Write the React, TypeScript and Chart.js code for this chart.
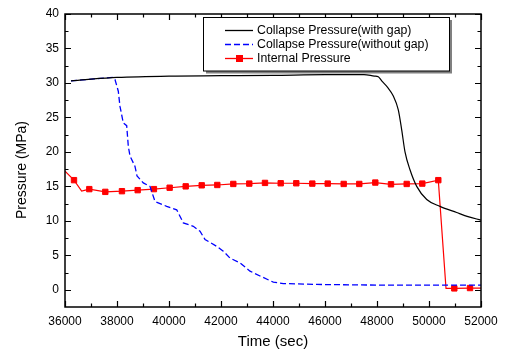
import React, { useEffect, useRef } from "react";
import { Chart, registerables } from "chart.js";

Chart.register(...registerables);

// ---- data ----
const withGapTime = [36230, 37000, 38000, 40000, 42000, 44000, 46000, 47500, 47900, 48050, 48181, 48400, 48627, 48819, 48950, 49077, 49269, 49527, 49912, 50423, 51065, 51500, 52000];
const withGapPressure = [30.3, 30.55, 30.8, 31.0, 31.05, 31.1, 31.2, 31.2, 31.0, 30.9, 30.3, 29.4, 28.1, 26.1, 23.2, 20.0, 17.4, 15.0, 13.1, 12.1, 11.2, 10.6, 10.1];

const withoutGapTime = [36230, 37000, 37858, 37923, 38050, 38115, 38242, 38373, 38435, 38500, 38692, 38770, 39012, 39269, 39462, 39912, 40296, 40550, 40935, 41192, 41385, 41835, 42088, 42346, 42731, 43115, 43500, 44012, 44396, 45681, 48242, 52000];
const withoutGapPressure = [30.3, 30.55, 30.8, 30.5, 28.8, 26.6, 24.2, 23.8, 20.8, 19.4, 17.9, 16.5, 15.5, 15.0, 12.8, 12.1, 11.6, 9.7, 9.2, 8.5, 7.3, 6.3, 5.6, 4.6, 3.9, 2.7, 2.0, 1.1, 0.9, 0.77, 0.67, 0.67];

const internalTime = [36000, 36346, 36640, 36935, 37550, 38190, 38795, 39420, 40025, 40642, 41258, 41858, 42473, 43088, 43692, 44296, 44896, 45512, 46104, 46719, 47319, 47935, 48538, 49142, 49742, 50358, 50654, 50973, 51577, 52000];
const internalPressure = [17.2, 15.9, 14.3, 14.6, 14.2, 14.3, 14.45, 14.6, 14.8, 15.0, 15.15, 15.2, 15.35, 15.4, 15.5, 15.45, 15.45, 15.4, 15.4, 15.35, 15.35, 15.55, 15.3, 15.35, 15.4, 15.9, 0.2, 0.2, 0.25, 0.25];
const internalMarked = [0, 1, 0, 1, 1, 1, 1, 1, 1, 1, 1, 1, 1, 1, 1, 1, 1, 1, 1, 1, 1, 1, 1, 1, 1, 1, 0, 1, 1, 0];

const xTickValues = [36000, 38000, 40000, 42000, 44000, 46000, 48000, 50000, 52000];
const yTickValues = [0, 5, 10, 15, 20, 25, 30, 35, 40];
const seriesLabels = ["Collapse Pressure(with gap)", "Collapse Pressure(without gap)", "Internal Pressure"];
const xTitle = "Time (sec)";
const yTitle = "Pressure (MPa)";

const FONT = "'Liberation Sans', Arial, sans-serif";

const toXY = (xs: number[], ys: number[]) => xs.map((x, i) => ({ x, y: ys[i] }));

const framePlugin = {
  id: "frameDecor",
  afterDatasetsDraw(chart: any) {
    const { ctx, chartArea } = chart;
    const { left, right, top, bottom } = chartArea;
    const xs = chart.scales.x;
    const ys = chart.scales.y;
    ctx.save();
    ctx.strokeStyle = "#000";
    ctx.lineWidth = 1.5;
    ctx.strokeRect(left, top, right - left, bottom - top);

    ctx.lineWidth = 1.2;
    ctx.beginPath();
    for (let t = xs.min; t <= xs.max; t += 1000) {
      const px = Math.round(xs.getPixelForValue(t)) + 0.5;
      const len = t % 2000 === 0 ? 6 : 3.5;
      ctx.moveTo(px, bottom);
      ctx.lineTo(px, bottom - len);
      ctx.moveTo(px, top);
      ctx.lineTo(px, top + len);
    }
    for (let v = 0; v <= ys.max; v += 2.5) {
      const py = Math.round(ys.getPixelForValue(v)) + 0.5;
      const len = v % 5 === 0 ? 6 : 3.5;
      ctx.moveTo(left, py);
      ctx.lineTo(left + len, py);
      ctx.moveTo(right, py);
      ctx.lineTo(right - len, py);
    }
    ctx.stroke();

    // axis titles
    ctx.fillStyle = "#000";
    ctx.font = `15px ${FONT}`;
    ctx.textAlign = "center";
    ctx.textBaseline = "middle";
    ctx.fillText(xTitle, (left + right) / 2, 342);
    ctx.save();
    ctx.translate(22, 170);
    ctx.rotate(-Math.PI / 2);
    ctx.font = `14px ${FONT}`;
    ctx.fillText(yTitle, 0, 0);
    ctx.restore();

    // legend
    const bx = 203.5, by = 17.5, bw = 246, bh = 53.5;
    ctx.fillStyle = "#808080";
    ctx.fillRect(bx + 2.5, by + 2.5, bw, bh);
    ctx.fillStyle = "#fff";
    ctx.fillRect(bx, by, bw, bh);
    ctx.strokeStyle = "#000";
    ctx.lineWidth = 1;
    ctx.strokeRect(bx, by, bw, bh);

    const rows = [30.5, 44.5, 58.5];
    const styles = chart.data.datasets;
    ctx.font = `12.3px ${FONT}`;
    ctx.textAlign = "left";
    ctx.textBaseline = "middle";
    rows.forEach((ry, i) => {
      const ds = styles[i];
      ctx.save();
      ctx.strokeStyle = ds.borderColor;
      ctx.lineWidth = 1.3;
      ctx.setLineDash(ds.borderDash || []);
      ctx.beginPath();
      ctx.moveTo(225, ry);
      ctx.lineTo(253, ry);
      ctx.stroke();
      ctx.restore();
      if (i === 2) {
        ctx.fillStyle = "#ff0000";
        ctx.fillRect(236, ry - 3.5, 7, 7);
      }
      ctx.fillStyle = "#000";
      ctx.fillText(seriesLabels[i], 257, ry);
    });
    ctx.restore();
  },
};

export default function App() {
  const ref = useRef<HTMLCanvasElement | null>(null);

  useEffect(() => {
    if (!ref.current) return;
    const chart = new Chart(ref.current, {
      type: "line",
      data: {
        datasets: [
          {
            label: seriesLabels[0],
            data: toXY(withGapTime, withGapPressure),
            borderColor: "#000000",
            borderWidth: 1.2,
            pointRadius: 0,
            cubicInterpolationMode: "monotone",
            fill: false,
          },
          {
            label: seriesLabels[1],
            data: toXY(withoutGapTime, withoutGapPressure),
            borderColor: "#0000ff",
            borderWidth: 1.3,
            borderDash: [6, 3],
            pointRadius: 0,
            fill: false,
          },
          {
            label: seriesLabels[2],
            data: toXY(internalTime, internalPressure),
            borderColor: "#ff0000",
            backgroundColor: "#ff0000",
            borderWidth: 1.2,
            pointStyle: "rect",
            pointRadius: (c: any) => (internalMarked[c.dataIndex] ? 3.8 : 0),
            pointBorderWidth: 1,
            pointBorderColor: "#ff0000",
            pointBackgroundColor: "#ff0000",
            fill: false,
          },
        ],
      } as any,
      options: {
        animation: false,
        responsive: false,
        maintainAspectRatio: false,
        layout: { padding: { top: 14, right: 29, left: 0, bottom: 0 } },
        plugins: { legend: { display: false }, tooltip: { enabled: false } },
        scales: {
          x: {
            type: "linear",
            min: 36000,
            max: 52000,
            grid: { display: false, drawTicks: false },
            border: { display: false },
            afterBuildTicks: (s: any) => {
              s.ticks = xTickValues.map((v) => ({ value: v }));
            },
            afterFit: (s: any) => {
              s.height = 46;
            },
            ticks: {
              padding: 7,
              maxRotation: 0,
              autoSkip: false,
              color: "#000",
              font: { family: FONT, size: 12 },
              callback: (v: any) => String(v),
            },
          },
          y: {
            type: "linear",
            min: -2.5,
            max: 40,
            grid: { display: false, drawTicks: false },
            border: { display: false },
            afterBuildTicks: (s: any) => {
              s.ticks = yTickValues.map((v) => ({ value: v }));
            },
            afterFit: (s: any) => {
              s.width = 65;
            },
            ticks: {
              padding: 6,
              autoSkip: false,
              color: "#000",
              font: { family: FONT, size: 12 },
              callback: (v: any) => String(v),
            },
          },
        },
      } as any,
      plugins: [framePlugin],
    });
    return () => chart.destroy();
  }, []);

  return (
    <div style={{ position: "fixed", left: 0, top: 0, width: 510, height: 353, background: "#fff" }}>
      <canvas ref={ref} width={510} height={353} style={{ width: 510, height: 353 }} />
    </div>
  );
}
